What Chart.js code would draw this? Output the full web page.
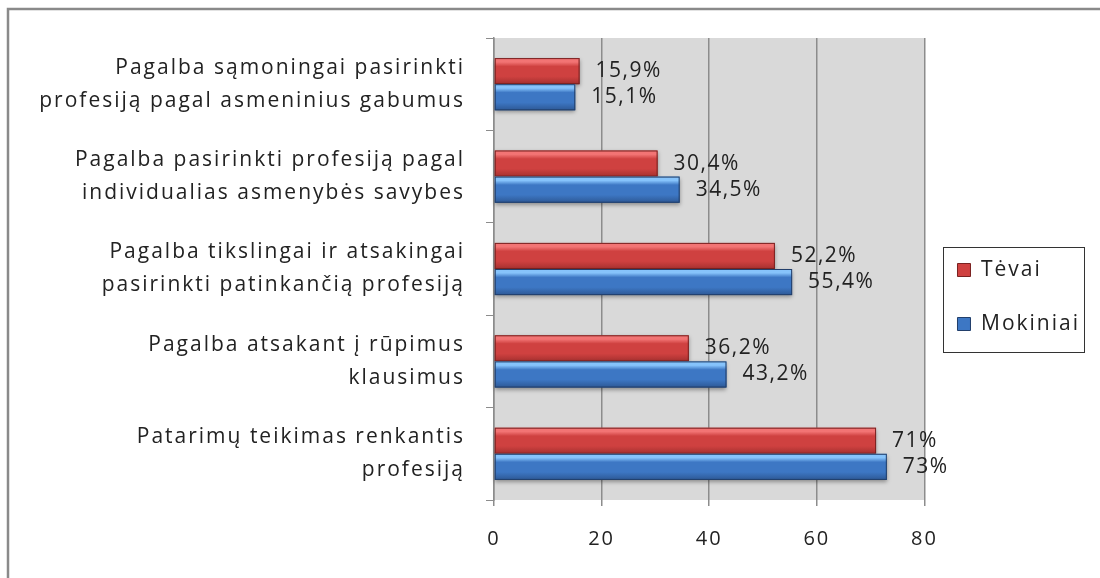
<!DOCTYPE html>
<html>
<head>
<meta charset="utf-8">
<script src="https://cdn.jsdelivr.net/npm/chart.js@4/dist/chart.umd.min.js"></script>
<style>
  html, body { margin: 0; background: #fff; }
  #wrap { width: 1100px; height: 578px; }
</style>
</head>
<body>
<div id="wrap"><canvas id="chart"></canvas></div>
<script>
const categories = [
  ['Pagalba sąmoningai pasirinkti', 'profesiją pagal asmeninius gabumus'],
  ['Pagalba pasirinkti profesiją pagal', 'individualias asmenybės savybes'],
  ['Pagalba tikslingai ir atsakingai', 'pasirinkti patinkančią profesiją'],
  ['Pagalba atsakant į rūpimus', 'klausimus'],
  ['Patarimų teikimas renkantis', 'profesiją']
]
const tevai = [15.9, 30.4, 52.2, 36.2, 71]
const mokiniai = [15.1, 34.5, 55.4, 43.2, 73]
const seriesNames = ['Tėvai', 'Mokiniai']
const xMin = 0
const xMax = 80
const xStep = 20

const FONT = '"Open Sans", sans-serif'
const SPACING = '2px'

// colours for the bevelled bars: light top, body, dark bottom
const shades = [
  {top: '#f27474', mid: '#cf4140', low: '#a5302f', edge: '#7a2221'},
  {top: '#86c3fb', mid: '#3d77c4', low: '#2d5895', edge: '#223f6b'}
]

const fmt = v => String(v).replace('.', ',') + '%'

const frame = {
  id: 'frame',
  beforeUpdate(chart) {
    chart.ctx.letterSpacing = SPACING
  },
  beforeDraw(chart) {
    const {ctx, chartArea: a} = chart
    ctx.letterSpacing = SPACING
    ctx.save()
    ctx.fillStyle = '#d9d9d9'
    ctx.fillRect(a.left, a.top, a.right - a.left, a.bottom - a.top)
    ctx.strokeStyle = '#8a8a8a'
    ctx.lineWidth = 2.5
    ctx.beginPath()
    ctx.moveTo(8, chart.height)
    ctx.lineTo(8, 9)
    ctx.lineTo(chart.width, 9)
    ctx.stroke()
    ctx.restore()
  },
  afterDraw(chart) {
    const boxes = chart.legend.legendHitBoxes
    if (!boxes.length) return
    const l = Math.min(...boxes.map(b => b.left))
    const t = Math.min(...boxes.map(b => b.top))
    const r = Math.max(...boxes.map(b => b.left + b.width))
    const bt = Math.max(...boxes.map(b => b.top + b.height))
    const {ctx} = chart
    ctx.save()
    ctx.strokeStyle = '#333'
    ctx.lineWidth = 1
    ctx.strokeRect(Math.round(l - 14) + 0.5, Math.round(t - 13) + 0.5, Math.round(r - l + 18), Math.round(bt - t + 30))
    ctx.restore()
  }
}

const bevel = {
  id: 'bevel',
  afterDatasetsDraw(chart) {
    const {ctx} = chart
    chart.data.datasets.forEach((ds, i) => {
      const meta = chart.getDatasetMeta(i)
      const c = shades[i]
      meta.data.forEach((bar, j) => {
        const {x, y, base, height} = bar.getProps(['x', 'y', 'base', 'height'], true)
        const top = y - height / 2
        const g = ctx.createLinearGradient(0, top, 0, top + height)
        g.addColorStop(0, c.top)
        g.addColorStop(0.15, c.top)
        g.addColorStop(0.32, c.mid)
        g.addColorStop(0.7, c.mid)
        g.addColorStop(1, c.low)
        ctx.save()
        ctx.shadowColor = 'rgba(0,0,0,0.35)'
        ctx.shadowBlur = 4
        ctx.shadowOffsetY = 2
        ctx.fillStyle = g
        ctx.fillRect(base, top, x - base, height)
        ctx.restore()
        ctx.save()
        ctx.strokeStyle = c.edge
        ctx.lineWidth = 1
        ctx.strokeRect(base + 0.5, top + 0.5, x - base - 1, height - 1)
        ctx.fillStyle = '#222'
        ctx.font = '21px ' + FONT
        ctx.letterSpacing = '1.5px'
        ctx.textBaseline = 'middle'
        ctx.fillText(fmt(ds.data[j]), x + 16, y)
        ctx.restore()
      })
    })
  }
}

new Chart(document.getElementById('chart'), {
  type: 'bar',
  data: {
    labels: categories,
    datasets: [
      {label: seriesNames[0], data: tevai, backgroundColor: shades[0].mid, borderColor: shades[0].edge, borderWidth: 1},
      {label: seriesNames[1], data: mokiniai, backgroundColor: shades[1].mid, borderColor: shades[1].edge, borderWidth: 1}
    ]
  },
  options: {
    indexAxis: 'y',
    responsive: true,
    maintainAspectRatio: false,
    animation: false,
    categoryPercentage: 0.565,
    barPercentage: 1,
    layout: {padding: {left: 0, top: 38, right: 10, bottom: 22}},
    scales: {
      x: {
        min: xMin,
        max: xMax,
        ticks: {stepSize: xStep, padding: 21, color: '#222', font: {family: FONT, size: 20}},
        grid: {color: '#8c8c8c', lineWidth: 1.5, tickLength: 6, tickColor: '#8c8c8c'},
        border: {display: false},
        afterFit: s => { s.height = 56; s.paddingLeft = 0; s.paddingRight = 0 }
      },
      y: {
        ticks: {padding: 21, color: '#222', font: {family: FONT, size: 21, lineHeight: 1.57}},
        grid: {drawOnChartArea: false, tickLength: 8, color: '#8c8c8c'},
        border: {color: '#8c8c8c', width: 1.5},
        afterFit: s => { s.width = 494; s.paddingTop = 0; s.paddingBottom = 0 }
      }
    },
    plugins: {
      tooltip: {enabled: false},
      legend: {
        position: 'right',
        labels: {boxWidth: 13, boxHeight: 13, padding: 33, color: '#222', font: {family: FONT, size: 21}}
      }
    }
  },
  plugins: [frame, bevel]
})
</script>
</body>
</html>
